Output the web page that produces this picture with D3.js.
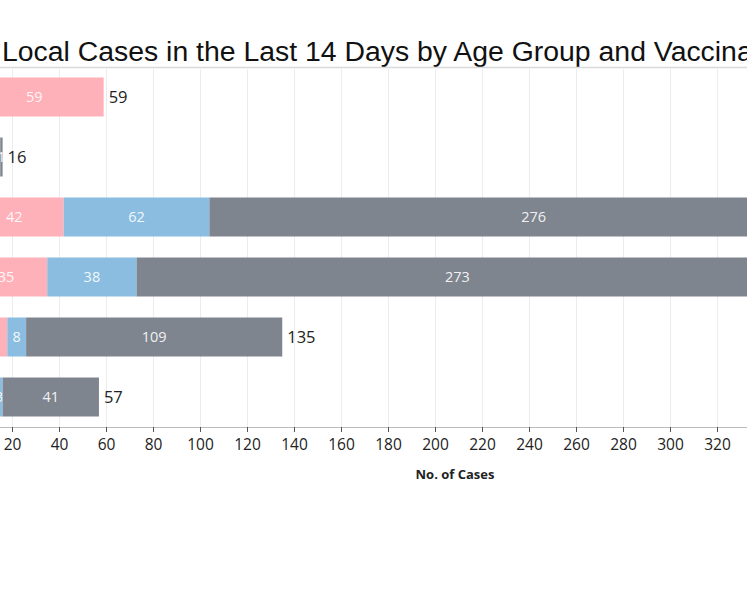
<!DOCTYPE html>
<html>
<head>
<meta charset="utf-8">
<script src="https://cdn.jsdelivr.net/npm/d3@7"></script>
<style>
	body { margin: 0; background: #fff; overflow: hidden; }
	svg { display: block; }
</style>
</head>
<body>
<div id="chart-area"></div>
<script>
// data (age groups are cut off on the left)
var ageGroups = ["0-11 years", "12-19 years", "20-39 years", "40-59 years", "60-69 years", "70 years & above"];
var unvaccinated = [59, 15, 42, 35, 18, 13];
var partial = [0, 0, 62, 38, 8, 3];
var fullyVaccinated = [0, 1, 276, 273, 109, 41];
var seriesNames = ["Unvaccinated", "Partially Vaccinated", "Fully Vaccinated"];
var seriesColors = ["#ffb1ba", "#8abde0", "#7f858f"];
var tickValues = [0, 20, 40, 60, 80, 100, 120, 140, 160, 180, 200, 220, 240, 260, 280, 300, 320, 340];

var width = 747, height = 598;

var svg = d3.select("#chart-area")
	.append("svg")
		.attr("width", width)
		.attr("height", height);

var rows = ageGroups.map(function(g, i){
	return { group: g, Unvaccinated: unvaccinated[i], "Partially Vaccinated": partial[i], "Fully Vaccinated": fullyVaccinated[i] };
});

var stack = d3.stack().keys(seriesNames)(rows);

//scales
var x = d3.scaleLinear()
	.domain([0, 340])
	.range([-35, -35 + 340*2.35]);

var y = d3.scaleBand()
	.domain(ageGroups)
	.range([67, 427])
	.paddingInner(0.35)
	.paddingOuter(0.175);

var color = d3.scaleOrdinal()
	.domain(seriesNames)
	.range(seriesColors);

//title
svg.append("text")
	.attr("x", 2)
	.attr("y", 61)
	.attr("font-family", "Arial, 'Liberation Sans', sans-serif")
	.attr("font-size", 28.4)
	.attr("fill", "#111")
	.text("Local Cases in the Last 14 Days by Age Group and Vaccination Status");

svg.append("line")
	.attr("x1", 0)
	.attr("x2", width)
	.attr("y1", 67.5)
	.attr("y2", 67.5)
	.attr("stroke", "#d9d9d9")
	.attr("stroke-width", 1.5);

//gridlines
svg.append("g")
	.selectAll("line")
	.data(tickValues)
	.enter()
	.append("line")
		.attr("x1", function(d){ return x(d) + 0.5 })
		.attr("x2", function(d){ return x(d) + 0.5 })
		.attr("y1", 69)
		.attr("y2", 427)
		.attr("stroke", "#ececec");

//bars
var layers = svg.append("g")
	.selectAll("g")
	.data(stack)
	.enter()
	.append("g")
		.attr("fill", function(d){ return color(d.key) });

layers.selectAll("rect")
	.data(function(d){ return d })
	.enter()
	.append("rect")
		.attr("x", function(d){ return x(d[0]) })
		.attr("y", function(d){ return y(d.data.group) })
		.attr("width", function(d){ return x(d[1]) - x(d[0]) })
		.attr("height", y.bandwidth());

//labels inside the bars
layers.selectAll("text")
	.data(function(d){ return d.filter(function(s){ return s[1] - s[0] > 0 }) })
	.enter()
	.append("text")
		.attr("x", function(d){ return (x(d[0]) + x(d[1])) / 2 })
		.attr("y", function(d){ return y(d.data.group) + y.bandwidth()/2 })
		.attr("dy", "0.35em")
		.attr("text-anchor", "middle")
		.attr("font-family", "'Open Sans', sans-serif")
		.attr("font-size", 14.5)
		.attr("fill", "#fff")
		.attr("fill-opacity", 0.9)
		.text(function(d){ return d[1] - d[0] });

//totals
svg.append("g")
	.selectAll("text")
	.data(rows)
	.enter()
	.append("text")
		.attr("x", function(d){ return x(d.Unvaccinated + d["Partially Vaccinated"] + d["Fully Vaccinated"]) + 5 })
		.attr("y", function(d){ return y(d.group) + y.bandwidth()/2 })
		.attr("dy", "0.35em")
		.attr("font-family", "'Open Sans', sans-serif")
		.attr("font-size", 16.5)
		.attr("fill", "#222")
		.text(function(d){ return d.Unvaccinated + d["Partially Vaccinated"] + d["Fully Vaccinated"] });

//x axis
var xAxisCall = d3.axisBottom(x)
	.tickValues(tickValues)
	.tickSize(5)
	.tickSizeOuter(0);

var xAxis = svg.append("g")
	.attr("class", "x axis")
	.attr("transform", "translate(0, 427)")
	.call(xAxisCall);

xAxis.select(".domain").attr("stroke", "#bbb");
xAxis.selectAll(".tick line").attr("stroke", "#555");
xAxis.selectAll(".tick text")
	.attr("y", 12)
	.attr("font-family", "'Open Sans', sans-serif")
	.attr("font-size", 15.5)
	.attr("fill", "#222");

svg.append("text")
	.attr("x", 455)
	.attr("y", 479)
	.attr("text-anchor", "middle")
	.attr("font-family", "'Open Sans', sans-serif")
	.attr("font-size", 13)
	.attr("font-weight", "bold")
	.attr("fill", "#222")
	.text("No. of Cases");
</script>
</body>
</html>
